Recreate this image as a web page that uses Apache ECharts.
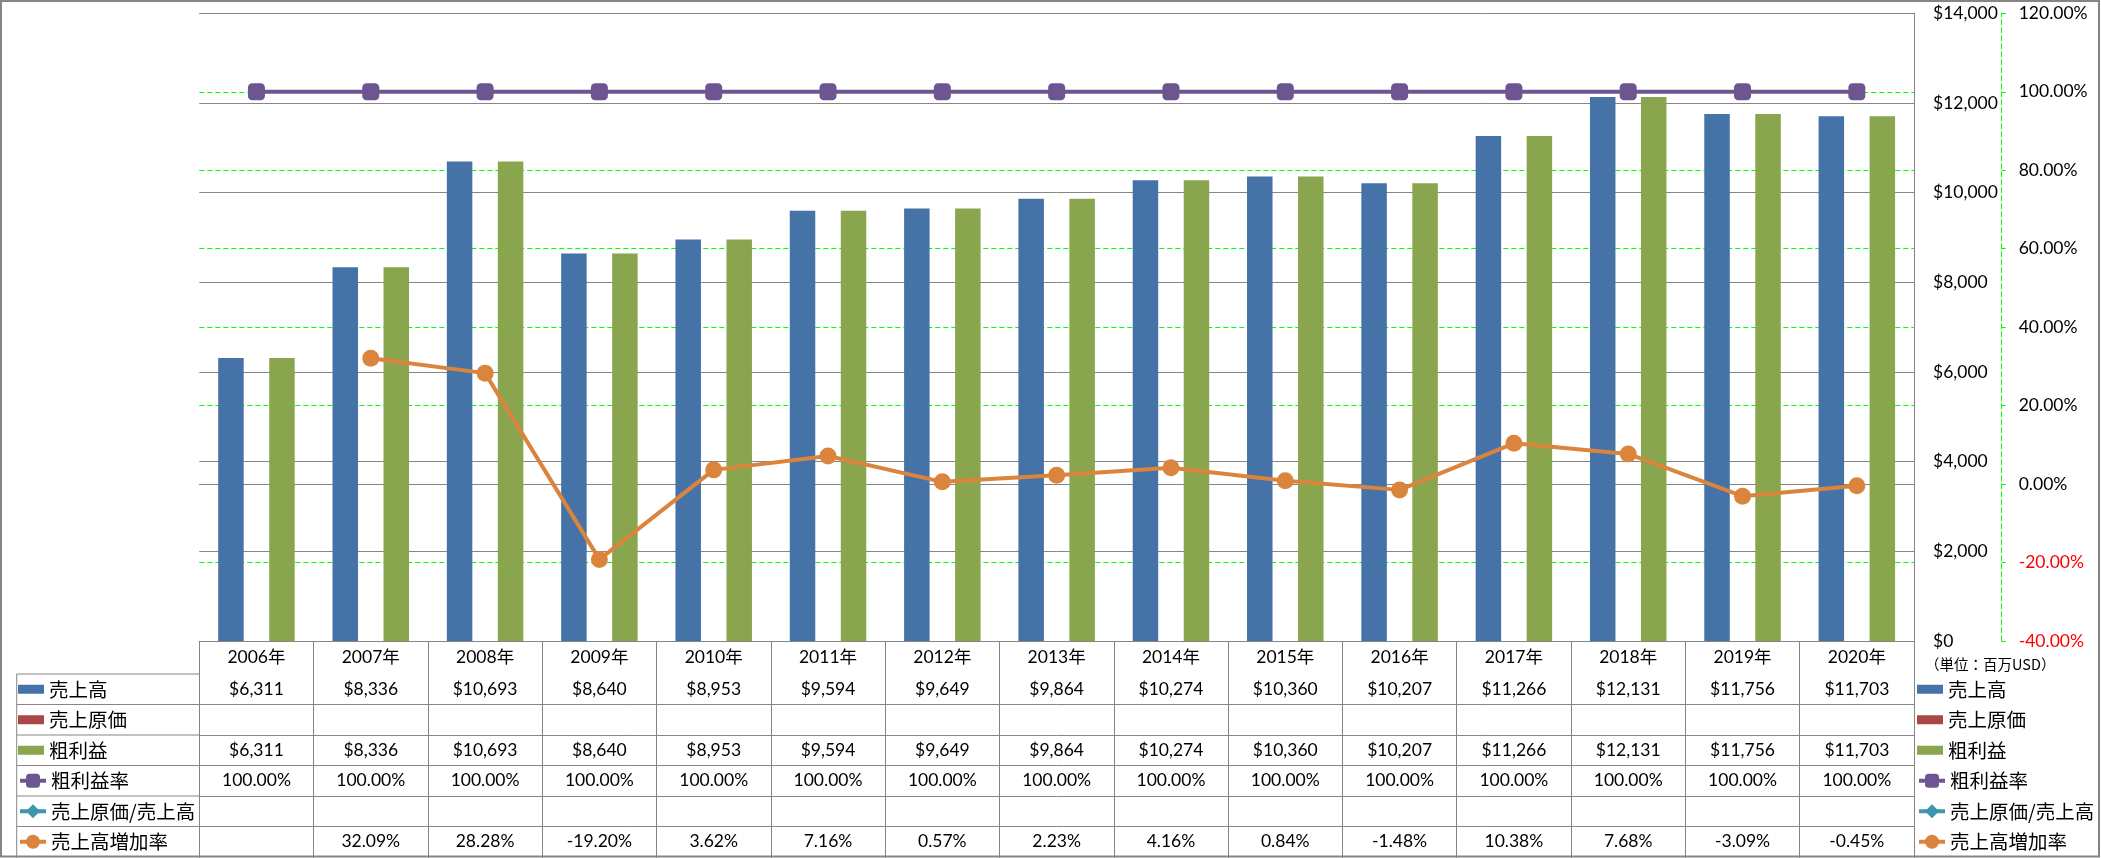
<!DOCTYPE html>
<html><head><meta charset="utf-8">
<script src="https://cdn.jsdelivr.net/npm/echarts@6/dist/echarts.min.js"></script>
<style>html,body{margin:0;padding:0;background:#fff}#c{width:2101px;height:858px}</style>
</head><body><div id="c"></div>
<script>
// ---------- data ----------
const years = ['2006年','2007年','2008年','2009年','2010年','2011年','2012年','2013年','2014年','2015年','2016年','2017年','2018年','2019年','2020年'];
const sales = [6311, 8336, 10693, 8640, 8953, 9594, 9649, 9864, 10274, 10360, 10207, 11266, 12131, 11756, 11703];
const costOfSales = [null, null, null, null, null, null, null, null, null, null, null, null, null, null, null];
const grossProfit = [6311, 8336, 10693, 8640, 8953, 9594, 9649, 9864, 10274, 10360, 10207, 11266, 12131, 11756, 11703];
const grossMargin = [100, 100, 100, 100, 100, 100, 100, 100, 100, 100, 100, 100, 100, 100, 100];
const costRatio = [null, null, null, null, null, null, null, null, null, null, null, null, null, null, null];
const salesGrowth = [null, 32.09, 28.28, -19.20, 3.62, 7.16, 0.57, 2.23, 4.16, 0.84, -1.48, 10.38, 7.68, -3.09, -0.45];
const seriesNames = ['売上高', '売上原価', '粗利益', '粗利益率', '売上原価/売上高', '売上高増加率'];
const moneyTicks = [0, 14000, 2000];     // min, max, interval
const pctTicks = [-40, 120, 20];         // min, max, interval
const unitLabel = '（単位：百万USD）';

// ---------- layout / style ----------
const W = 2101, H = 858;
const GRID_L = 199.3, GRID_R = 1914, GRID_T = 13.3, AXIS_Y = 641;
const HEAD_H = 33, ROW_H = 30.5;
const NUM_FONT = 'Lato, "Noto Sans CJK JP", sans-serif';
const JP_FONT = '"Noto Sans CJK JP", sans-serif';
const GRAY = '#858585', GREEN = '#00FF00';
const COLORS = ['#4572A7', '#AA4643', '#89A54E', '#6C5590', '#3D96AE', '#DB843D'];
const NUM_SIZE = 17.5;

const money = v => (v == null ? '' : '$' + v.toLocaleString('en-US'));
const pct = v => (v == null ? '' : v.toFixed(2) + '%');
const rows = [
  {data: sales, fmt: money},
  {data: costOfSales, fmt: money},
  {data: grossProfit, fmt: money},
  {data: grossMargin, fmt: pct},
  {data: costRatio, fmt: pct},
  {data: salesGrowth, fmt: pct}
];

const xAxes = [{
  type: 'category', data: years, position: 'bottom', boundaryGap: true,
  axisLine: {show: true, lineStyle: {color: GRAY, width: 1}},
  axisTick: {show: true, interval: 0, length: H - AXIS_Y, lineStyle: {color: GRAY, width: 1}},
  axisLabel: {interval: 0, margin: 0, lineHeight: HEAD_H, fontSize: NUM_SIZE, fontFamily: NUM_FONT, color: '#000'},
  splitLine: {show: false}
}];
rows.forEach((r, i) => {
  xAxes.push({
    type: 'category', data: years, position: 'bottom', offset: HEAD_H + ROW_H * i,
    axisLine: {show: true, lineStyle: {color: GRAY, width: 1}},
    axisTick: {show: false},
    axisLabel: {interval: 0, margin: 0, lineHeight: ROW_H, fontSize: NUM_SIZE, fontFamily: NUM_FONT, color: '#000',
      formatter: (v, idx) => r.fmt(r.data[idx])},
    splitLine: {show: false}
  });
});

const barBase = {type: 'bar', barWidth: 25.5, barGap: '0%', yAxisIndex: 0, xAxisIndex: 0, z: 3};
const series = [
  Object.assign({}, barBase, {name: seriesNames[0], data: sales, itemStyle: {color: COLORS[0]}}),
  Object.assign({}, barBase, {name: seriesNames[1], data: costOfSales, itemStyle: {color: COLORS[1]}}),
  Object.assign({}, barBase, {name: seriesNames[2], data: grossProfit, itemStyle: {color: COLORS[2]}}),
  {type: 'line', name: seriesNames[3], data: grossMargin, yAxisIndex: 1, symbol: 'roundRect', symbolSize: 17,
    lineStyle: {color: COLORS[3], width: 4}, itemStyle: {color: COLORS[3]}, z: 5},
  {type: 'line', name: seriesNames[4], data: costRatio, yAxisIndex: 1, symbol: 'diamond', symbolSize: 17,
    lineStyle: {color: COLORS[4], width: 4}, itemStyle: {color: COLORS[4]}, z: 5},
  {type: 'line', name: seriesNames[5], data: salesGrowth, yAxisIndex: 1, symbol: 'circle', symbolSize: 17,
    lineStyle: {color: COLORS[5], width: 4}, itemStyle: {color: COLORS[5]}, z: 6}
];

function mkLegend(left, names, itemH, top, icon) {
  const lg = {data: names, orient: 'vertical', left: left, top: top, itemWidth: 26, itemHeight: itemH,
    itemGap: ROW_H - 19.5, padding: 0, selectedMode: false,
    textStyle: {fontFamily: JP_FONT, fontSize: 19.5, color: '#000'},
    lineStyle: {width: 4}};
  if (icon) lg.icon = icon;
  return lg;
}
const barNames = seriesNames.slice(0, 3), lineNames = seriesNames.slice(3);
const legTop1 = AXIS_Y + HEAD_H + ROW_H / 2 - 9.75;
const legTop2 = legTop1 + ROW_H * 3;

// graphic: outer border, left column of the data table, unit label
const graphics = [
  {type: 'rect', shape: {x: 1, y: 1, width: W - 3, height: H - 2.5}, style: {fill: 'none', stroke: GRAY, lineWidth: 2}, silent: true},
  {type: 'line', shape: {x1: 16.7, y1: AXIS_Y + HEAD_H, x2: 16.7, y2: H}, style: {stroke: GRAY, lineWidth: 1}, silent: true}
];
for (let i = 0; i < rows.length; i++) {
  const y = AXIS_Y + HEAD_H + ROW_H * i;
  graphics.push({type: 'line', shape: {x1: 16.7, y1: y, x2: GRID_L, y2: y}, style: {stroke: GRAY, lineWidth: 1}, silent: true});
}
graphics.push({type: 'text', x: 1925, y: 664, style: {text: unitLabel, fontFamily: JP_FONT, fontSize: 14.5, fill: '#000', verticalAlign: 'middle'}, silent: true});

const option = {
  animation: false,
  backgroundColor: '#fff',
  grid: {left: GRID_L, right: W - GRID_R, top: GRID_T, bottom: H - AXIS_Y, containLabel: false},
  xAxis: xAxes,
  yAxis: [
    {type: 'value', position: 'right', min: moneyTicks[0], max: moneyTicks[1], interval: moneyTicks[2], z: 1,
      axisLine: {show: true, lineStyle: {color: GRAY, width: 1}}, axisTick: {show: false},
      splitLine: {show: true, lineStyle: {color: GRAY, width: 1}},
      axisLabel: {margin: 19, fontSize: NUM_SIZE, fontFamily: NUM_FONT, color: '#000', formatter: v => money(v)}},
    {type: 'value', position: 'right', offset: 87.7, min: pctTicks[0], max: pctTicks[1], interval: pctTicks[2], z: 0,
      axisLine: {show: true, lineStyle: {color: GREEN, width: 1, type: [5, 3]}},
      axisTick: {show: true, length: 4, lineStyle: {color: GREEN}},
      splitLine: {show: true, lineStyle: {color: GREEN, width: 1, type: [5, 3]}},
      axisLabel: {margin: 17, formatter: v => (v < 0 ? '{neg|' : '{pos|') + v.toFixed(2) + '%}',
        rich: {neg: {color: '#FF0000', fontSize: NUM_SIZE, fontFamily: NUM_FONT},
               pos: {color: '#000', fontSize: NUM_SIZE, fontFamily: NUM_FONT}}}}
  ],
  legend: [
    mkLegend(18, barNames, 9, legTop1, 'rect'),
    mkLegend(18, lineNames, 17.5, legTop2),
    mkLegend(1917, barNames, 9, legTop1, 'rect'),
    mkLegend(1917, lineNames, 17.5, legTop2)
  ],
  series: series,
  graphic: graphics
};

const chart = echarts.init(document.getElementById('c'), null, {renderer: 'canvas', width: W, height: H});
chart.setOption(option);
</script></body></html>
